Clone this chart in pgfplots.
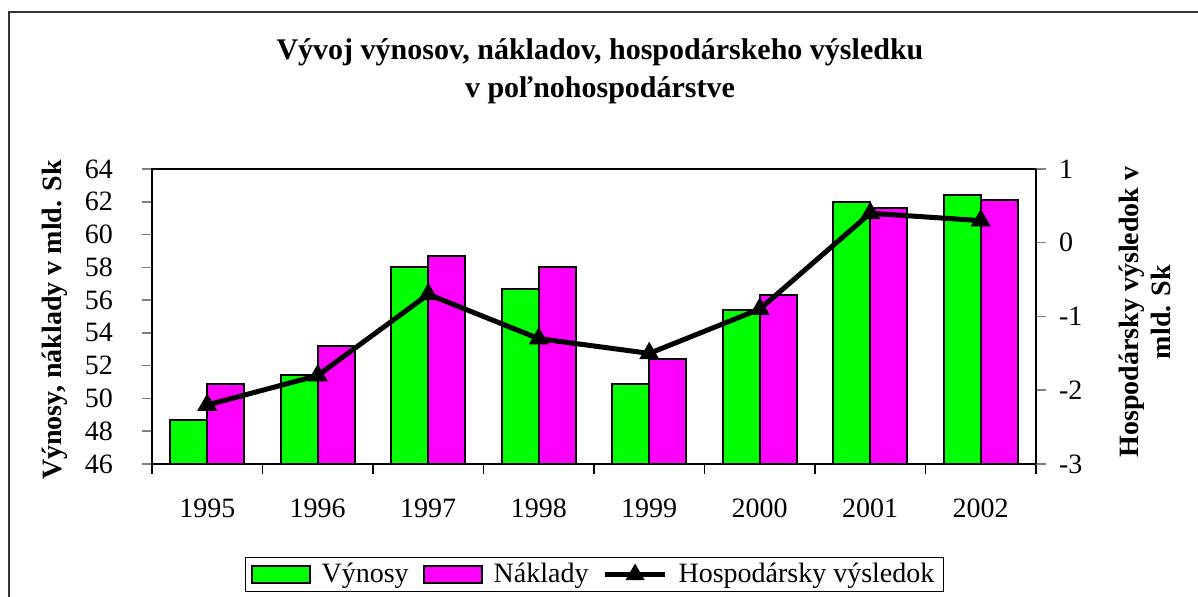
\documentclass[border=0pt]{standalone}
\usepackage{fontspec}
\setmainfont{Liberation Serif}
\usepackage{pgfplots}
\pgfplotsset{compat=1.18}
\definecolor{vgreen}{RGB}{0,255,0}
\definecolor{vmag}{RGB}{255,0,255}
\begin{document}
\begin{tikzpicture}[font=\fontsize{14pt}{17pt}\selectfont]
\useasboundingbox (0,0) rectangle (599pt,-298.5pt);
\draw[line width=0.8pt, black!80] (4.5pt,-305pt) -- (4.5pt,-6pt) -- (605pt,-6pt);
\node[font=\fontsize{15pt}{18pt}\selectfont\bfseries, anchor=base] at (300pt,-30pt) {Vývoj výnosov, nákladov, hospodárskeho výsledku};
\node[font=\fontsize{15pt}{18pt}\selectfont\bfseries, anchor=base] at (300pt,-49pt) {v poľnohospodárstve};
\node[font=\fontsize{14pt}{17pt}\selectfont\bfseries, rotate=90] at (27.5pt,-160pt) {Výnosy, náklady v mld. Sk};
\node[font=\fontsize{14pt}{16pt}\selectfont\bfseries, rotate=90, align=center] at (572.5pt,-156pt) {Hospodársky výsledok v\\mld. Sk};
\begin{axis}[
  at={(76pt,-232pt)}, anchor=south west,
  width=442pt, height=147.5pt, scale only axis,
  xmin=-0.5, xmax=7.5, ymin=46, ymax=64,
  ytick={46,48,...,64},
  xtick={0,...,7},
  xticklabels={1995,1996,1997,1998,1999,2000,2001,2002},
  xtick style={draw=none},
  extra x ticks={-0.5,0.5,...,7.5},
  extra x tick labels={},
  extra x tick style={xtick style={draw=black, line width=0.75pt}},
  ytick pos=left, xtick pos=left,
  tick align=outside, major tick length=5pt,
  ytick style={line width=0.75pt},
  axis line style={line width=1pt},
  tick label style={font=\fontsize{14pt}{17pt}\selectfont},
  /pgf/number format/assume math mode=true,
  yticklabel style={xshift=-11pt},
  xticklabel style={yshift=-9pt},
  ybar=0pt, bar width=18.5pt,
]
\addplot[fill=vgreen, draw=black, line width=1pt] coordinates {(0,48.7) (1,51.4) (2,58.0) (3,56.7) (4,50.9) (5,55.4) (6,62.0) (7,62.4)};
\addplot[fill=vmag, draw=black, line width=1pt] coordinates {(0,50.9) (1,53.2) (2,58.7) (3,58.0) (4,52.4) (5,56.3) (6,61.6) (7,62.1)};
\end{axis}
\begin{axis}[
  at={(76pt,-232pt)}, anchor=south west,
  width=442pt, height=147.5pt, scale only axis,
  xmin=-0.5, xmax=7.5, ymin=-3, ymax=1,
  ytick={-3,-2,...,1},
  yticklabels={-3,-2,-1,0,1},
  axis y line*=right, axis x line=none,
  tick align=outside, major tick length=5pt,
  ytick style={line width=0.75pt},
  axis line style={line width=1pt},
  tick label style={font=\fontsize{14pt}{17pt}\selectfont},
  yticklabel style={xshift=3pt},
  legend columns=3,
  legend style={at={(0.5006,-0.3746)}, anchor=center, draw=black, line width=0.75pt,
    inner xsep=2.5pt, inner ysep=1pt, nodes={inner sep=2pt, font=\fontsize{14pt}{17pt}\selectfont},
    /tikz/every odd column/.append style={column sep=3.5pt},
    /tikz/every even column/.append style={column sep=5pt}},
]
\addlegendimage{legend image code/.code={\draw[fill=vgreen,draw=black,line width=1pt] (0pt,-4.2pt) rectangle (29pt,4.2pt);}}
\addlegendimage{legend image code/.code={\draw[fill=vmag,draw=black,line width=1pt] (0pt,-4.2pt) rectangle (29pt,4.2pt);}}
\addplot[black, line width=2.5pt, mark=triangle*, mark size=5.3pt, mark options={solid, line width=0.5pt},
  legend image code/.code={\draw[black, line width=2.5pt, mark=triangle*, mark size=5pt, mark options={solid, line width=0.5pt}, mark repeat=2, mark phase=2] plot coordinates {(0pt,0pt) (15pt,0pt) (30pt,0pt)};}]
  coordinates {(0,-2.2) (1,-1.8) (2,-0.7) (3,-1.3) (4,-1.5) (5,-0.9) (6,0.4) (7,0.3)};
\legend{Výnosy, Náklady, Hospodársky výsledok}
\end{axis}
\end{tikzpicture}
\end{document}
